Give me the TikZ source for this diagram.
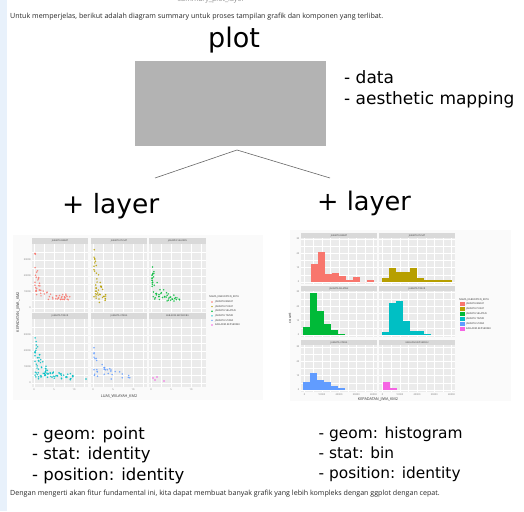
\documentclass[tikz,border=0pt]{standalone}
\usepackage{fontspec}
\setmainfont{DejaVu Sans}
\newfontfamily\sfsmall{Open Sans}
\definecolor{cA}{HTML}{F8766D}
\definecolor{cB}{HTML}{B79F00}
\definecolor{cC}{HTML}{00BA38}
\definecolor{cD}{HTML}{00BFC4}
\definecolor{cE}{HTML}{619CFF}
\definecolor{cF}{HTML}{F564E3}
\definecolor{sidebar}{HTML}{E8F1FB}
\definecolor{panelbg}{HTML}{EBEBEB}
\definecolor{stripbg}{HTML}{D9D9D9}
\definecolor{boxgray}{HTML}{B3B3B3}
\definecolor{plotbg}{HTML}{FAFAFA}
\tikzset{
 bigtext/.style={font=\fontsize{26.5}{30}\selectfont, inner sep=0, anchor=base west},
 bigtextR/.style={font=\fontsize{25.6}{30}\selectfont, inner sep=0, anchor=base west},
 listtext/.style={font=\fontsize{16.5}{21}\selectfont, inner sep=0, anchor=base west},
 listtextR/.style={font=\fontsize{15.4}{20}\selectfont, inner sep=0, anchor=base west},
 captext/.style={font=\sfsmall\fontsize{7.1}{8.5}\selectfont, inner sep=0, anchor=base west, text=black!85},
 panel/.style={fill=panelbg},
 strip/.style={fill=stripbg},
 striplabel/.style={font=\sfsmall\fontsize{2.3}{3}\selectfont, text=black!75, inner sep=0},
 ticklabel/.style={font=\sfsmall\fontsize{2.4}{3}\selectfont, text=black!55, inner sep=0},
 axislabel/.style={font=\sfsmall\fontsize{3.8}{4.5}\selectfont, text=black!80, inner sep=0},
 legtext/.style={font=\sfsmall\fontsize{2.5}{3}\selectfont, text=black!80, inner sep=0, anchor=west},
 majgrid/.style={white, line width=0.45pt},
 mingrid/.style={white, line width=0.2pt},
 connector/.style={draw=black!60, line width=0.6pt},
}
% scatter: x0, axis y, colour, n, xspread, h0, H, L, noise
\newcommand\scatterpts[9]{%
 \foreach \k in {1,...,#4}{%
  \pgfmathsetmacro\uu{rnd}%
  \pgfmathsetmacro\vv{rnd}%
  \pgfmathsetmacro\ww{rnd}%
  \pgfmathsetmacro\dd{#5*\uu*\uu}%
  \pgfmathsetmacro\hh{#6+#7*exp(-\dd/#8)*\vv+#9*\ww}%
  \fill[#3, opacity=0.85] ({#1+3+\dd},{#2-\hh}) circle (0.85pt);
 }}
% histogram: x0, baseline, bin width, colour, heights
\newcommand\histbars[5]{%
 \foreach \hgt [count=\i from 0] in {#5}{%
  \fill[#4] ({#1+\i*#3},#2) rectangle ({#1+(\i+1)*#3},{#2-\hgt});
 }}
\begin{document}
\begin{tikzpicture}[x=1pt,y=-1pt]
\useasboundingbox (0,0) rectangle (524,511);
\fill[sidebar] (0,0) rectangle (7,511);

% captions
\node[captext, text=black!45, anchor=base] (cut) at (211,2) {summary\_plot\_layer};
\node[captext] (intro) at (10,18.5) {Untuk memperjelas, berikut adalah diagram summary untuk proses tampilan grafik dan komponen yang terlibat.};
\node[captext] (outro) at (10,495.5) {Dengan mengerti akan fitur fundamental ini, kita dapat membuat banyak grafik yang lebih kompleks dengan ggplot dengan cepat.};

% plot block
\node[font=\fontsize{27}{30}\selectfont, inner sep=0, anchor=base] (plotlbl) at (234,48) {plot};
\node[fill=boxgray, minimum width=191pt, minimum height=85pt, inner sep=0, anchor=north west] (box) at (135,61) {};
\node[font=\fontsize{17}{21}\selectfont, inner sep=0, anchor=base west] (data) at (344,83) {- data};
\node[font=\fontsize{17}{21}\selectfont, inner sep=0, anchor=base west] (aes) at (344,104) {- aesthetic mapping};

\coordinate (apex) at (237,150);
\coordinate (lend) at (155,178);
\coordinate (rend) at (330,178);
\draw[connector] (apex) -- (lend);
\draw[connector] (apex) -- (rend);

\node[bigtext] (layerL) at (62,213) {+ layer};
\node[bigtextR] (layerR) at (317,210.5) {+ layer};

% ---------- left plot: scatter ----------
\fill[plotbg] (13,235) rectangle (263,400);
\foreach \xa/\xb in {32/88, 91/147, 149/206}{
 \foreach \ys/\yt/\yb in {238/244/312, 313/319/387}{
  \fill[strip] (\xa,\ys) rectangle (\xb,\yt);
  \fill[panel] (\xa,\yt) rectangle (\xb,\yb);
  \foreach \d in {12,32,52}{\draw[mingrid] (\xa+\d,\yt) -- (\xa+\d,\yb);}
  \foreach \d in {2,22,42}{\draw[majgrid] (\xa+\d,\yt) -- (\xa+\d,\yb);}
  \foreach \d in {12,28,44,60}{\draw[mingrid] (\xa,\yb-\d) -- (\xb,\yb-\d);}
  \foreach \d in {4,20,36,52}{\draw[majgrid] (\xa,\yb-\d) -- (\xb,\yb-\d);}
 }}
\node[striplabel] (sl1) at (60,241) {JAKARTA BARAT};
\node[striplabel] (sl2) at (119,241) {JAKARTA PUSAT};
\node[striplabel] (sl3) at (177.5,241) {JAKARTA SELATAN};
\node[striplabel] (sl4) at (60,316) {JAKARTA TIMUR};
\node[striplabel] (sl5) at (119,316) {JAKARTA UTARA};
\node[striplabel] (sl6) at (177.5,316) {KAB.ADM.KEP.SERIBU};

\pgfmathsetseed{12}
\scatterpts{32}{308}{cA}{60}{38}{8}{48}{4}{6}
\scatterpts{91}{308}{cB}{45}{12}{4}{56}{6}{4}
\scatterpts{149}{308}{cC}{55}{28}{6}{34}{8}{5}
\scatterpts{32}{384}{cD}{85}{38}{4}{40}{8}{6}
\scatterpts{91}{384}{cE}{35}{36}{4}{32}{12}{5}
\fill[cD] (73,376) circle (0.85pt);
\fill[cD] (86,379) circle (0.85pt);
\fill[cF] (153,378) circle (0.85pt);
\fill[cF] (155,380) circle (0.85pt);
\fill[cF] (157,377) circle (0.85pt);
\fill[cF] (164,381) circle (0.85pt);

\foreach \v/\d in {0/4,10000/20,20000/36,30000/52}{
 \node[ticklabel, anchor=east] at (31,312-\d) {\v};
 \node[ticklabel, anchor=east] at (31,387-\d) {\v};}
\foreach \xa in {32,91,149}{
 \foreach \v/\d in {0/2,5/22,10/42}{\node[ticklabel] at (\xa+\d,390) {\v};}}
\node[axislabel] (lxl) at (119,396) {LUAS\_WILAYAH\_KM2};
\node[axislabel, rotate=90] (lyl) at (18,312) {KEPADATAN\_JIWA\_KM2};

\node[legtext] (lleg) at (209,297) {NAMA\_KABUPATEN\_KOTA};
\foreach \c/\t [count=\i from 0] in {cA/JAKARTA BARAT, cB/JAKARTA PUSAT, cC/JAKARTA SELATAN, cD/JAKARTA TIMUR, cE/JAKARTA UTARA, cF/KAB.ADM.KEP.SERIBU}{
 \fill[\c] (212,302+4.6*\i) circle (0.8pt);
 \node[legtext] at (215,302+4.6*\i) {\t};}

% ---------- right plot: histograms ----------
\fill[plotbg] (290,230) rectangle (511,401);
\foreach \xa/\xb in {301/377, 379/455}{
 \foreach \ys/\yt/\yb in {233/238/284, 286/291/337, 340/345/392}{
  \fill[strip] (\xa,\ys) rectangle (\xb,\yt);
  \fill[panel] (\xa,\yt) rectangle (\xb,\yb);
  \foreach \k in {0,...,3}{\draw[mingrid] (\xa+12.1+\k*17.25,\yt) -- (\xa+12.1+\k*17.25,\yb);}
  \foreach \k in {0,...,4}{\draw[majgrid] (\xa+3.5+\k*17.25,\yt) -- (\xa+3.5+\k*17.25,\yb);}
  \foreach \k in {0,...,2}{\draw[mingrid] (\xa,\yb-9.15-\k*14.3) -- (\xb,\yb-9.15-\k*14.3);}
  \foreach \k in {0,...,3}{\draw[majgrid] (\xa,\yb-2-\k*14.3) -- (\xb,\yb-2-\k*14.3);}
 }}
\node[striplabel] (hl1) at (339,235.5) {JAKARTA BARAT};
\node[striplabel] (hl2) at (417,235.5) {JAKARTA PUSAT};
\node[striplabel] (hl3) at (339,288.5) {JAKARTA SELATAN};
\node[striplabel] (hl4) at (417,288.5) {JAKARTA TIMUR};
\node[striplabel] (hl5) at (339,342.5) {JAKARTA UTARA};
\node[striplabel] (hl6) at (417,342.5) {KAB.ADM.KEP.SERIBU};

\histbars{311}{282}{7}{cA}{18,30,8,9,6,2,5,0,2}
\histbars{382}{282}{7}{cB}{4,14,10,10,14,4,2,2,2,2}
\histbars{303}{335}{7}{cC}{8,42,24,11,5,1}
\histbars{382}{335}{7}{cD}{3,32,34,14,4,4,1}
\histbars{303}{390}{7}{cE}{8,17,10,8,4,2}
\histbars{383}{390}{7}{cF}{8,2}

\foreach \yb in {284,337,392}{
 \foreach \v [count=\k from 0] in {0,10,20,30}{\node[ticklabel, anchor=east] at (299.5,\yb-2-\k*14.3) {\v};}}
\foreach \xa in {301,379}{
 \foreach \v [count=\k from 0] in {0,10000,20000,30000,40000}{\node[ticklabel] at (\xa+3.5+\k*17.25,395) {\v};}}
\node[axislabel] (rxl) at (378,399.5) {KEPADATAN\_JIWA\_KM2};
\node[axislabel, rotate=90] (ryl) at (290,318) {count};

\node[legtext] (rleg) at (459,300) {NAMA\_KABUPATEN\_KOTA};
\foreach \c/\t [count=\i from 0] in {cA/JAKARTA BARAT, cB/JAKARTA PUSAT, cC/JAKARTA SELATAN, cD/JAKARTA TIMUR, cE/JAKARTA UTARA, cF/KAB.ADM.KEP.SERIBU}{
 \fill[\c] (460,302+5*\i) rectangle (464.5,306.2+5*\i);
 \node[legtext] at (466,304.1+5*\i) {\t};}

% ---------- lists ----------
\node[listtext] (l1) at (32,439) {- geom: point};
\node[listtext] (l2) at (32,459.5) {- stat: identity};
\node[listtext] (l3) at (32,480) {- position: identity};
\node[listtextR] (r1) at (318.5,438.5) {- geom: histogram};
\node[listtextR] (r2) at (318.5,458.5) {- stat: bin};
\node[listtextR] (r3) at (318.5,478.5) {- position: identity};
\end{tikzpicture}
\end{document}
